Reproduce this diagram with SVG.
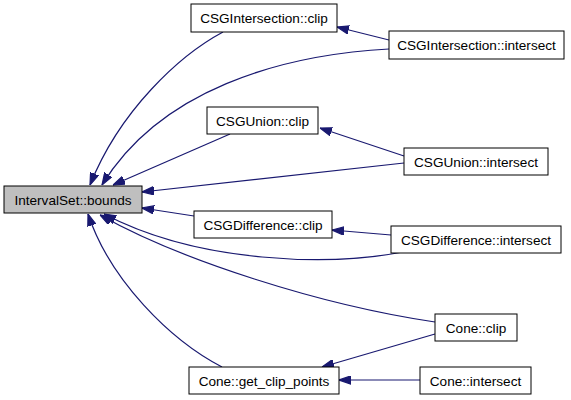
<svg xmlns="http://www.w3.org/2000/svg" width="571" height="400" viewBox="0 0 571 400">
<style>
.n rect{fill:#ffffff;stroke:#000000;stroke-width:1}
.n.root rect{fill:#bfbfbf}
.n text{font-family:"Liberation Sans",Arial,sans-serif;font-size:13.6px;fill:#000000;text-anchor:middle}
.e path{fill:none;stroke:#191970;stroke-width:1.2;marker-end:url(#ah)}
</style>
<defs>
<marker id="ah" viewBox="0 0 10 7" refX="10" refY="3.5" markerWidth="12" markerHeight="9" markerUnits="userSpaceOnUse" orient="auto">
<path d="M0,0 L10,3.5 L0,7 z" fill="#191970" stroke="#191970"/>
</marker>
</defs>
<g id="edges" class="e">
<path d="M223,32 C180,55 120,110 90,185"/>
<path d="M389,40 L337,27"/>
<path d="M389,49 C280,55 160,90 102,185"/>
<path d="M230,134 L113,185"/>
<path d="M404,156 L320,128"/>
<path d="M404,163 L142,192"/>
<path d="M194,216 L142,208"/>
<path d="M391,235 L332,230"/>
<path d="M403,252 C330,266 200,264 104,214"/>
<path d="M435,322 C320,305 180,260 100,215"/>
<path d="M435,334 L322,367"/>
<path d="M222,367 C170,340 110,280 88,214"/>
<path d="M420,380 L339,380"/>
</g>
<g id="IntervalSet_bounds" class="n root"><rect x="4" y="186" width="138" height="27"/><text x="73" y="204.5">IntervalSet::bounds</text></g>
<g id="CSGIntersection_clip" class="n"><rect x="191" y="4" width="146" height="28"/><text x="264" y="22.5">CSGIntersection::clip</text></g>
<g id="CSGIntersection_intersect" class="n"><rect x="389" y="31" width="175" height="28"/><text x="476.5" y="49.5">CSGIntersection::intersect</text></g>
<g id="CSGUnion_clip" class="n"><rect x="207" y="107" width="111" height="27"/><text x="262.5" y="125.5">CSGUnion::clip</text></g>
<g id="CSGUnion_intersect" class="n"><rect x="404" y="148" width="144" height="27"/><text x="476" y="166.5">CSGUnion::intersect</text></g>
<g id="CSGDifference_clip" class="n"><rect x="194" y="211" width="138" height="27"/><text x="263" y="229.5">CSGDifference::clip</text></g>
<g id="CSGDifference_intersect" class="n"><rect x="391" y="226" width="170" height="27"/><text x="476" y="244.5">CSGDifference::intersect</text></g>
<g id="Cone_clip" class="n"><rect x="435" y="314" width="82" height="27"/><text x="476" y="332.5">Cone::clip</text></g>
<g id="Cone_get_clip_points" class="n"><rect x="189" y="367" width="150" height="27"/><text x="264" y="385.5">Cone::get_clip_points</text></g>
<g id="Cone_intersect" class="n"><rect x="420" y="367" width="111" height="27"/><text x="475.5" y="385.5">Cone::intersect</text></g>
</svg>
